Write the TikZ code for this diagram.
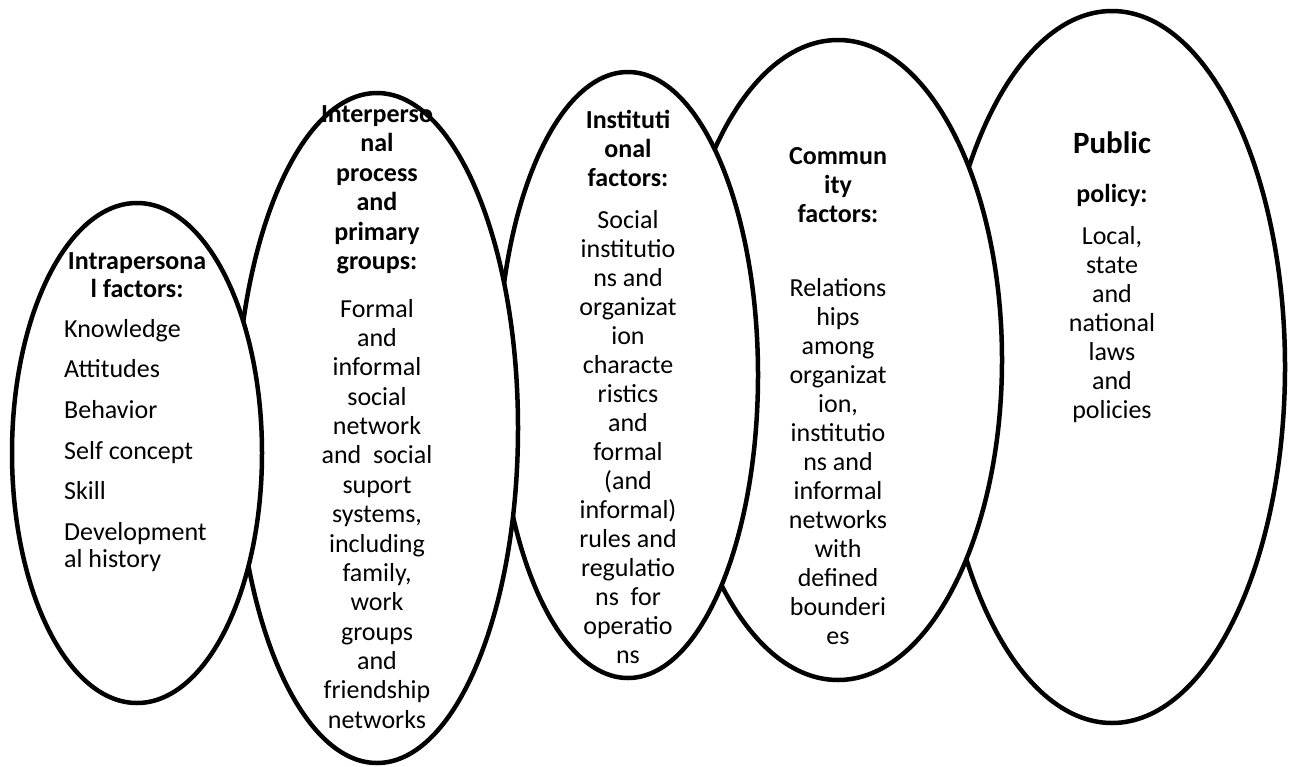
\documentclass[tikz,border=0pt]{standalone}
\usepackage{fontspec}
\setmainfont{Carlito}
\usetikzlibrary{shapes.geometric}
\begin{document}
\begin{tikzpicture}[x=1pt,y=-1pt,
  oval/.style={draw=black, line width=4.5pt, fill=white, ellipse, inner sep=0pt},
  ln/.style={inner sep=0pt, text height=19.5pt, text depth=5.2pt, font=\fontsize{26}{29}\selectfont},
  hd/.style={ln, font=\fontsize{26}{29}\selectfont\bfseries}]
\fill[white] (0,0) rectangle (1290,766);
\useasboundingbox (0,0) rectangle (1290,766);

% Ellipse 5: Public policy
\node[oval, minimum width=346pt, minimum height=712pt] (e5) at (1112,367) {};
\node[hd, font=\fontsize{31}{34}\selectfont\bfseries] (h5a) at (1112,146) {Public};
\node[hd] (h5b) at (1112,195) {policy:};
\foreach \t [count=\i] in {{Local,},{state},{and},{national},{laws},{and},{policies}}
  \node[ln] (b5-\i) at (1112,{237+(\i-1)*29}) {\t};

% Ellipse 4: Community factors
\node[oval, minimum width=328pt, minimum height=640pt] (e4) at (838,360) {};
\foreach \t [count=\i] in {{Commun},{ity},{factors:}}
  \node[hd] (h4-\i) at (838,{157+(\i-1)*29}) {\t};
\foreach \t [count=\i] in {{Relations},{hips},{among},{organizat},{ion,},{institutio},{ns and},{informal},{networks},{with},{defined},{bounderi},{es}}
  \node[ln] (b4-\i) at (838,{289+(\i-1)*29}) {\t};

% Ellipse 3: Institutional factors
\node[oval, minimum width=260pt, minimum height=606pt] (e3) at (628,375) {};
\foreach \t [count=\i] in {{Instituti},{onal},{factors:}}
  \node[hd] (h3-\i) at (628,{121+(\i-1)*29}) {\t};
\foreach \t [count=\i] in {{Social},{institutio},{ns and},{organizat},{ion},{characte},{ristics},{and},{formal},{(and},{informal)},{rules and},{regulatio},{ns\ \ for},{operatio},{ns}}
  \node[ln] (b3-\i) at (628,{221+(\i-1)*29}) {\t};

% Ellipse 2: Interpersonal process and primary groups
\node[oval, minimum width=282pt, minimum height=670pt] (e2) at (377,428) {};
\foreach \t [count=\i] in {{Interperso},{nal},{process},{and},{primary},{groups:}}
  \node[hd] (h2-\i) at (377,{115+(\i-1)*29.5}) {\t};
\foreach \t [count=\i] in {{Formal},{and},{informal},{social},{network},{and\ \ social},{suport},{systems,},{including},{family,},{work},{groups},{and},{friendship},{networks}}
  \node[ln] (b2-\i) at (377,{310+(\i-1)*29.36}) {\t};

% Ellipse 1: Intrapersonal factors
\node[oval, minimum width=250pt, minimum height=500pt] (e1) at (137,453) {};
\node[hd] (h1-1) at (137,262) {Intrapersona};
\node[hd] (h1-2) at (137,290) {l factors:};
\node[ln, anchor=west] (b1-1) at (64,330) {Knowledge};
\node[ln, anchor=west] (b1-2) at (64,370) {Attitudes};
\node[ln, anchor=west] (b1-3) at (64,411) {Behavior};
\node[ln, anchor=west] (b1-4) at (64,452) {Self concept};
\node[ln, anchor=west] (b1-5) at (64,492) {Skill};
\node[ln, anchor=west] (b1-6) at (64,533) {Development};
\node[ln, anchor=west] (b1-7) at (64,560) {al history};
\end{tikzpicture}
\end{document}
